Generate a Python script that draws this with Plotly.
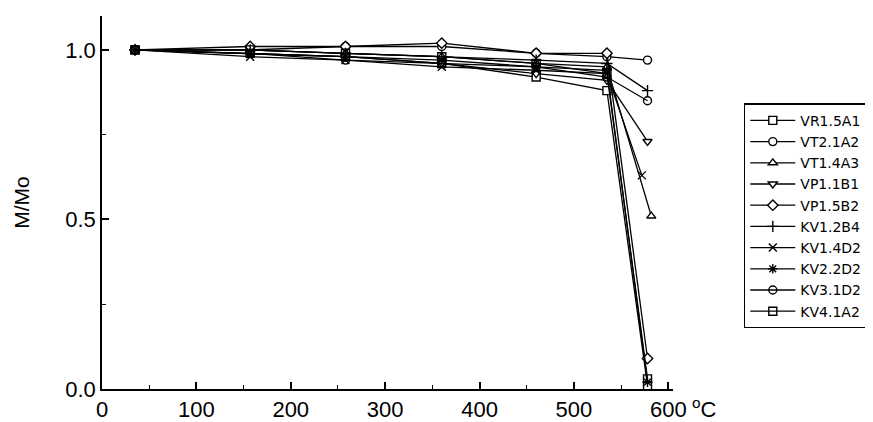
import plotly.graph_objects as go

temps = [35, 157, 258, 360, 460, 535]
names = ["VR1.5A1", "VT2.1A2", "VT1.4A3", "VP1.1B1", "VP1.5B2",
         "KV1.2B4", "KV1.4D2", "KV2.2D2", "KV3.1D2", "KV4.1A2"]
last_temp = [578, 578, 582, 578, 578, 578, 572, 578, 578, 578]

VR15A1 = [1.00, 0.99, 0.98, 0.96, 0.92, 0.88, 0.01]
VT21A2 = [1.00, 1.00, 1.01, 1.01, 0.99, 0.98, 0.97]
VT14A3 = [1.00, 1.00, 0.99, 0.98, 0.96, 0.95, 0.51]
VP11B1 = [1.00, 0.99, 0.98, 0.96, 0.93, 0.91, 0.73]
VP15B2 = [1.00, 1.01, 1.01, 1.02, 0.99, 0.99, 0.09]
KV12B4 = [1.00, 1.00, 0.99, 0.98, 0.97, 0.96, 0.88]
KV14D2 = [1.00, 0.98, 0.97, 0.95, 0.94, 0.93, 0.63]
KV22D2 = [1.00, 0.99, 0.98, 0.97, 0.95, 0.94, 0.02]
KV31D2 = [1.00, 0.99, 0.97, 0.96, 0.95, 0.92, 0.85]
KV41A2 = [1.00, 1.00, 0.99, 0.98, 0.96, 0.93, 0.03]

series = [VR15A1, VT21A2, VT14A3, VP11B1, VP15B2, KV12B4, KV14D2, KV22D2, KV31D2, KV41A2]

x_ticks = [0, 100, 200, 300, 400, 500, 600]
y_ticks = [0.0, 0.5, 1.0]

symbols = ["square", "circle", "triangle-up", "triangle-down", "diamond",
           "cross-thin-open", "x-thin-open", "asterisk-open", "circle-open", "square-open"]
fills = ["white", "white", "white", "white", "white",
         "black", "black", "black", "black", "black"]

fig = go.Figure()
for name, vals, lt, sym, fc in zip(names, series, last_temp, symbols, fills):
    fig.add_trace(go.Scatter(
        x=temps + [lt], y=vals, name=name, mode="lines+markers",
        line=dict(color="black", width=1.3),
        marker=dict(symbol=sym, size=8, color=fc,
                    line=dict(color="black", width=1.4)),
    ))

font = "Liberation Sans, Arial, sans-serif"
fig.update_layout(
    width=873, height=422,
    margin=dict(l=94, r=208, t=8, b=34),
    paper_bgcolor="white", plot_bgcolor="white",
    font=dict(family=font, color="black"),
    showlegend=True,
    legend=dict(x=1.124, y=0.766, xanchor="left", yanchor="top",
                bordercolor="black", borderwidth=1.5,
                font=dict(size=14, color="black", family="DejaVu Sans, sans-serif"),
                itemwidth=45, tracegroupgap=0),
    xaxis=dict(range=[0, 605], tickvals=x_ticks, ticktext=[str(v) for v in x_ticks],
               showgrid=False, zeroline=False, showline=True, linecolor="black",
               linewidth=1.5, ticks="inside", ticklen=7, tickwidth=1.5, tickcolor="black",
               tickfont=dict(size=22), mirror=False,
               minor=dict(tickvals=[50, 150, 250, 350, 450, 550], ticks="inside",
                          ticklen=4, tickwidth=1.2, tickcolor="black")),
    yaxis=dict(range=[0, 1.1], tickvals=y_ticks, ticktext=["0.0", "0.5", "1.0"],
               showgrid=False, zeroline=False, showline=True, linecolor="black",
               linewidth=1.5, ticks="inside", ticklen=7, tickwidth=1.5, tickcolor="black",
               tickfont=dict(size=22),
               title=dict(text="M/Mo", font=dict(size=21), standoff=30),
               minor=dict(tickvals=[0.25, 0.75], ticks="inside",
                          ticklen=4, tickwidth=1.2, tickcolor="black")),
)
fig.add_annotation(text="<sup>o</sup>C", xref="paper", yref="paper",
                   x=1.03, y=-0.05, xanchor="left", yanchor="middle",
                   showarrow=False, font=dict(size=22, color="black"))

fig.write_html("out.html")
